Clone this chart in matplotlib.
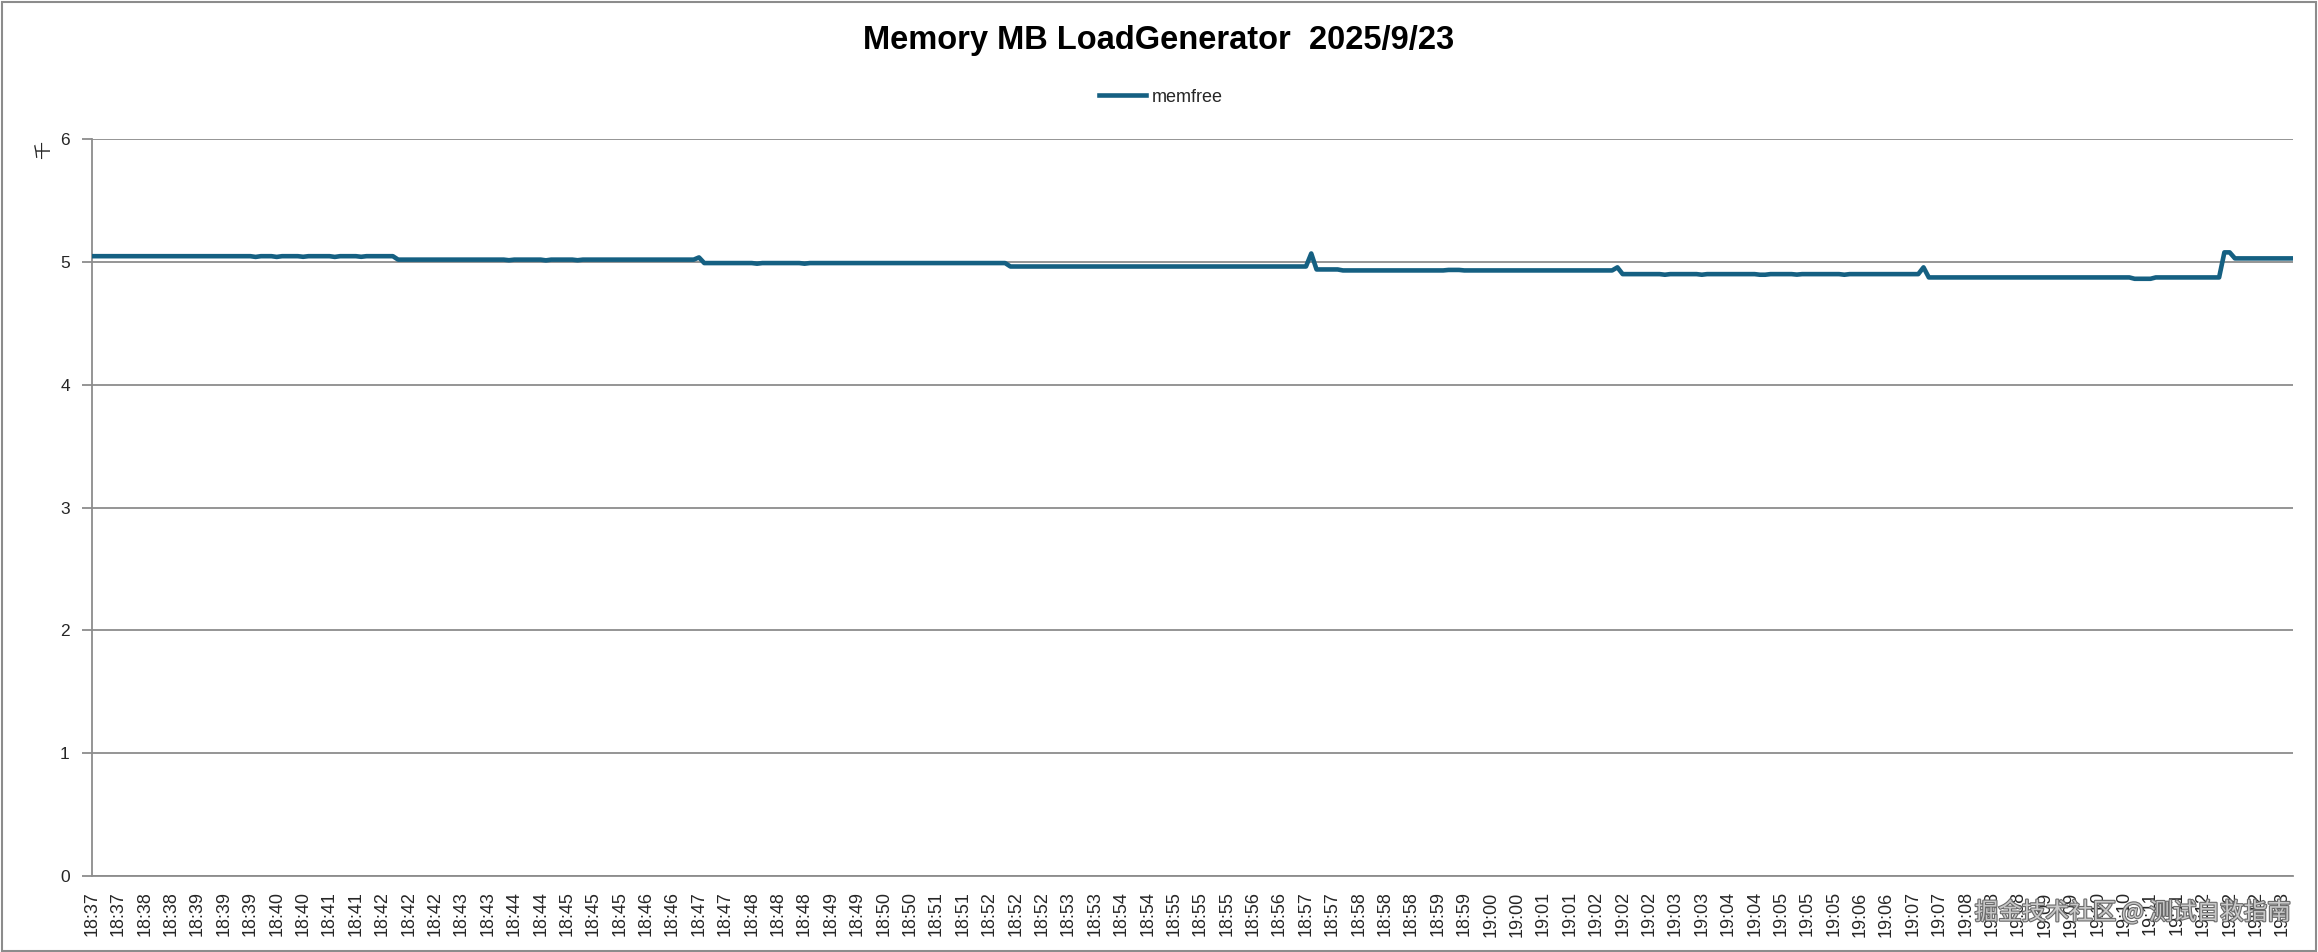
import matplotlib
matplotlib.use("Agg")
import matplotlib.pyplot as plt
import matplotlib.patheffects as pe
from matplotlib.patches import Rectangle
import numpy as np

# ---- data (thousands of MB), run-length encoded step levels ----
seg_values = [5.046, 5.040, 5.046, 5.040, 5.046, 5.041, 5.046, 5.040, 5.046, 5.041, 5.046,
              5.018, 5.013, 5.018, 5.012, 5.018, 5.013, 5.018,
              5.036,
              4.990, 4.985, 4.990, 4.985, 4.990,
              4.962,
              5.068,
              4.938,
              4.930, 4.934, 4.930,
              4.955,
              4.900, 4.895, 4.900, 4.895, 4.900, 4.895, 4.900, 4.896, 4.900, 4.895, 4.900,
              4.955,
              4.873, 4.862, 4.873,
              5.077,
              5.028]
seg_lengths = [31, 1, 3, 1, 4, 1, 5, 1, 4, 1, 6,
               21, 1, 6, 1, 5, 1, 22,
               1,
               10, 1, 8, 1, 38,
               57,
               1,
               5,
               20, 3, 29,
               1,
               8, 1, 6, 1, 10, 2, 5, 1, 8, 1, 14,
               1,
               39, 4, 13,
               2,
               12]

tick_labels = ["18:37", "18:37", "18:38", "18:38", "18:39", "18:39", "18:39", "18:40", "18:40",
               "18:41", "18:41", "18:42", "18:42", "18:42", "18:43", "18:43", "18:44", "18:44",
               "18:45", "18:45", "18:45", "18:46", "18:46", "18:47", "18:47", "18:48", "18:48",
               "18:48", "18:49", "18:49", "18:50", "18:50", "18:51", "18:51", "18:52", "18:52",
               "18:52", "18:53", "18:53", "18:54", "18:54", "18:55", "18:55", "18:55", "18:56",
               "18:56", "18:57", "18:57", "18:58", "18:58", "18:58", "18:59", "18:59", "19:00",
               "19:00", "19:01", "19:01", "19:02", "19:02", "19:02", "19:03", "19:03", "19:04",
               "19:04", "19:05", "19:05", "19:05", "19:06", "19:06", "19:07", "19:07", "19:08",
               "19:08", "19:08", "19:09", "19:09", "19:10", "19:10", "19:11", "19:11", "19:12",
               "19:12", "19:12", "19:13"]
label_step = 5  # one label every 5 samples

memfree = np.repeat(seg_values, seg_lengths)
x = np.arange(len(memfree))

plt.rcParams['font.family'] = ['Liberation Sans', 'DejaVu Sans']

W, H = 2318, 952
fig = plt.figure(figsize=(W / 100, H / 100), dpi=100)
ax = fig.add_axes([92 / W, 1 - 876 / H, (2293 - 92) / W, (876 - 139) / H])

line_color = '#156082'
grid_color = '#8c8c8c'

ax.plot(x, memfree, color=line_color, lw=3.3, solid_joinstyle='round', label='memfree', zorder=3)

ax.set_xlim(0, len(memfree) - 1)
ax.set_ylim(0, 6)
ax.set_yticks(range(0, 7))
ax.set_yticklabels([str(v) for v in range(0, 7)])
ticks = np.arange(len(tick_labels)) * label_step
ax.set_xticks(ticks)
ax.set_xticklabels(tick_labels, rotation=90, fontsize=13, color='#262626', va='top')
ax.tick_params(axis='x', length=0, pad=11)
ax.tick_params(axis='y', length=7, width=1.3, color=grid_color, pad=9, labelsize=12.5,
               labelcolor='#262626')

ax.grid(axis='y', color=grid_color, lw=1.3, zorder=1)
ax.set_axisbelow(True)
for s in ['top', 'right']:
    ax.spines[s].set_visible(False)
for s in ['left', 'bottom']:
    ax.spines[s].set_color(grid_color)
    ax.spines[s].set_linewidth(1.3)

fig.text(44 / W, 1 - 150 / H, '千', rotation=90, ha='center', va='center', fontsize=13,
         family=['Noto Sans CJK SC', 'DejaVu Sans'], color='#262626')

fig.text(0.5, 1 - 41 / H, 'Memory MB LoadGenerator  2025/9/23', ha='center', va='center',
         fontsize=23.5, fontweight='bold', color='black')

leg = fig.legend(loc='center', bbox_to_anchor=(1161 / W, 1 - 97 / H), frameon=False,
                 fontsize=13, handlelength=2.6, handletextpad=0.3, borderpad=0)
for t in leg.get_texts():
    t.set_color('#262626')

# watermark
fig.text(2291 / W, 1 - 912 / H, '掘金技术社区 @ 测试自救指南', ha='right', va='center',
         fontsize=17, family=['Noto Sans CJK SC', 'DejaVu Sans'], color='#c8c8c8',
         path_effects=[pe.withStroke(linewidth=1.6, foreground='#6a6a6a')], zorder=10)

# chart border
fig.patches.append(Rectangle((0.0008, 0.001), 0.9984, 0.997, transform=fig.transFigure,
                             fill=False, edgecolor='#8c8c8c', lw=1.5))

fig.savefig('out.png', dpi=100, facecolor='white')
